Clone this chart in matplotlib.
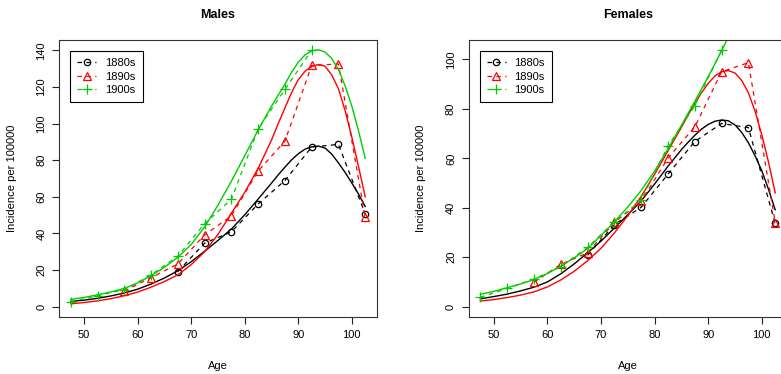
import matplotlib
matplotlib.use("Agg")
import matplotlib.pyplot as plt

plt.rcParams["font.family"] = ["Liberation Sans", "DejaVu Sans"]
plt.rcParams["lines.scale_dashes"] = False

# observed incidence per 100000 by 5-year age group, one series per birth cohort
cohorts = ["1880s", "1890s", "1900s"]
age_1880 = [67.5, 72.5, 77.5, 82.5, 87.5, 92.5, 97.5, 102.5]
age_1890 = [57.5, 62.5, 67.5, 72.5, 77.5, 82.5, 87.5, 92.5, 97.5, 102.5]
age_1900 = [47.5, 52.5, 57.5, 62.5, 67.5, 72.5, 77.5, 82.5, 87.5, 92.5]

male_1880 = [19.2, 34.7, 40.9, 56.1, 68.9, 87.2, 88.6, 50.7]
male_1890 = [8.6, 15.9, 23.4, 39.2, 49.6, 74.1, 90.4, 131.7, 132.5, 48.8]
male_1900 = [2.7, 6.0, 9.4, 17.4, 27.6, 45.4, 58.6, 97.1, 118.6, 140.0]

female_1880 = [20.8, 33.2, 40.2, 53.6, 66.8, 74.1, 72.4, 33.7]
female_1890 = [9.9, 17.1, 21.8, 34.1, 42.6, 60.1, 72.7, 95.0, 98.7, 34.0]
female_1900 = [3.8, 7.4, 11.2, 16.2, 24.0, 34.3, 43.0, 65.0, 81.2, 103.7]

# fitted curves; finer steps around the peak
fit_age = [47.5, 50, 52.5, 55, 57.5, 60, 62.5, 65, 67.5, 70, 72.5, 75, 77.5, 80,
           82.5, 85, 86.25, 87.5, 88.75, 90, 91.25, 92.5, 93.75, 95, 96.25, 97.5,
           98.75, 100, 101.25, 102.5]
male_fit_1880 = [2.9, 3.6, 4.6, 5.9, 7.5, 9.6, 12.4, 15.7, 19.6, 24.6, 30.3, 36.2,
                 42.4, 50.2, 58.8, 67.5, 72.0, 76.2, 80.2, 83.5, 86.0, 87.3, 87.7,
                 86.6, 83.3, 78.5, 73.3, 67.5, 61.5, 54.7]
male_fit_1890 = [1.6, 2.3, 3.2, 4.4, 6.0, 8.0, 10.7, 13.8, 17.4, 23.0, 30.0, 39.5,
                 51.0, 62.5, 75.5, 91.0, 100.0, 108.5, 117.0, 124.0, 128.5, 131.2,
                 132.2, 131.3, 126.5, 119.0, 107.0, 92.5, 76.5, 60.0]
male_fit_1900 = [4.0, 5.1, 6.5, 8.1, 10.0, 13.0, 17.0, 21.5, 27.0, 34.0, 43.5, 55.5,
                 68.5, 82.5, 96.5, 109.5, 115.5, 121.5, 128.0, 133.5, 137.5, 139.7,
                 140.3, 139.0, 135.5, 129.5, 120.5, 109.5, 96.0, 81.0]
female_fit_1880 = [3.2, 4.1, 5.1, 6.4, 7.9, 10.0, 13.3, 17.3, 21.8, 26.5, 31.8, 37.2,
                   42.8, 49.6, 56.8, 63.5, 66.5, 69.3, 71.8, 73.7, 75.0, 75.5, 75.2,
                   73.5, 70.5, 66.3, 61.0, 55.0, 47.5, 39.2]
female_fit_1890 = [2.3, 2.9, 3.7, 4.7, 6.0, 8.0, 10.8, 14.3, 18.6, 23.6, 29.8, 36.8,
                   44.6, 53.5, 63.0, 72.5, 77.5, 82.2, 86.5, 90.3, 93.3, 95.0, 95.5,
                   94.5, 91.5, 86.5, 79.0, 69.5, 58.5, 46.0]
female_fit_1900 = [5.0, 6.2, 7.7, 9.2, 11.0, 13.4, 16.4, 19.7, 23.5, 28.8, 34.3, 40.3,
                   47.0, 54.8, 63.8, 73.3, 78.2, 83.0, 88.0, 93.0, 98.2, 103.5, 109.0,
                   114.5]

colors = ["black", "#FF0000", "#00CD00"]
markers = ["o", "^", "+"]
msizes = [4.6, 5.6, 7.0]

panels = [
    ("Males", [male_1880, male_1890, male_1900],
     [male_fit_1880, male_fit_1890, male_fit_1900], [0, 20, 40, 60, 80, 100, 120, 140],
     [59 / 781, 1 - 317 / 374, 318 / 781, 277 / 374]),
    ("Females", [female_1880, female_1890, female_1900],
     [female_fit_1880, female_fit_1890, female_fit_1900], [0, 20, 40, 60, 80, 100],
     [468.5 / 781, 1 - 317 / 374, 318.5 / 781, 277 / 374]),
]
obs_ages = [age_1880, age_1890, age_1900]

fig = plt.figure(figsize=(7.81, 3.74), dpi=100)
for title, obs, fits, yticks, rect in panels:
    ax = fig.add_axes(rect)
    handles = []
    for k in range(3):
        h, = ax.plot(obs_ages[k], obs[k], color=colors[k], lw=0.9, ls=(0, (3.2, 3.2)),
                     marker=markers[k], ms=msizes[k], mfc="none", mec=colors[k], mew=0.9)
        handles.append(h)
        ax.plot(fit_age[:len(fits[k])], fits[k], color=colors[k], lw=1.0)
    ymax = max(max(s) for s in obs)
    ax.set_xlim(45.3, 104.7)
    ax.set_ylim(-0.04 * ymax, 1.04 * ymax)
    ax.set_xticks([50, 60, 70, 80, 90, 100])
    ax.set_yticks(yticks)
    for lab in ax.get_yticklabels():
        lab.set_rotation(90)
        lab.set_va("center")
    ax.tick_params(direction="out", length=5, width=0.8, labelsize=8, pad=4, color="#222222")
    for sp in ax.spines.values():
        sp.set_linewidth(0.8)
        sp.set_color("#333333")
    ax.set_title(title, fontsize=9, fontweight="bold", pad=16)
    ax.set_xlabel("Age", fontsize=8, va="center")
    ax.xaxis.set_label_coords(0.5, -0.177)
    ax.set_ylabel("Incidence per 100000", fontsize=8, va="center")
    ax.yaxis.set_label_coords(-47 / 318, 0.5)
    leg = ax.legend(handles, cohorts, loc="upper left",
                    bbox_to_anchor=(11 / 318, 1 - 11 / 277), borderaxespad=0,
                    fancybox=False, fontsize=8, handlelength=1.7, handletextpad=0.8,
                    labelspacing=0.3, borderpad=0.65, numpoints=1, framealpha=1)
    leg.get_frame().set_edgecolor("black")
    leg.get_frame().set_linewidth(0.8)

fig.savefig("out.png", dpi=100)
